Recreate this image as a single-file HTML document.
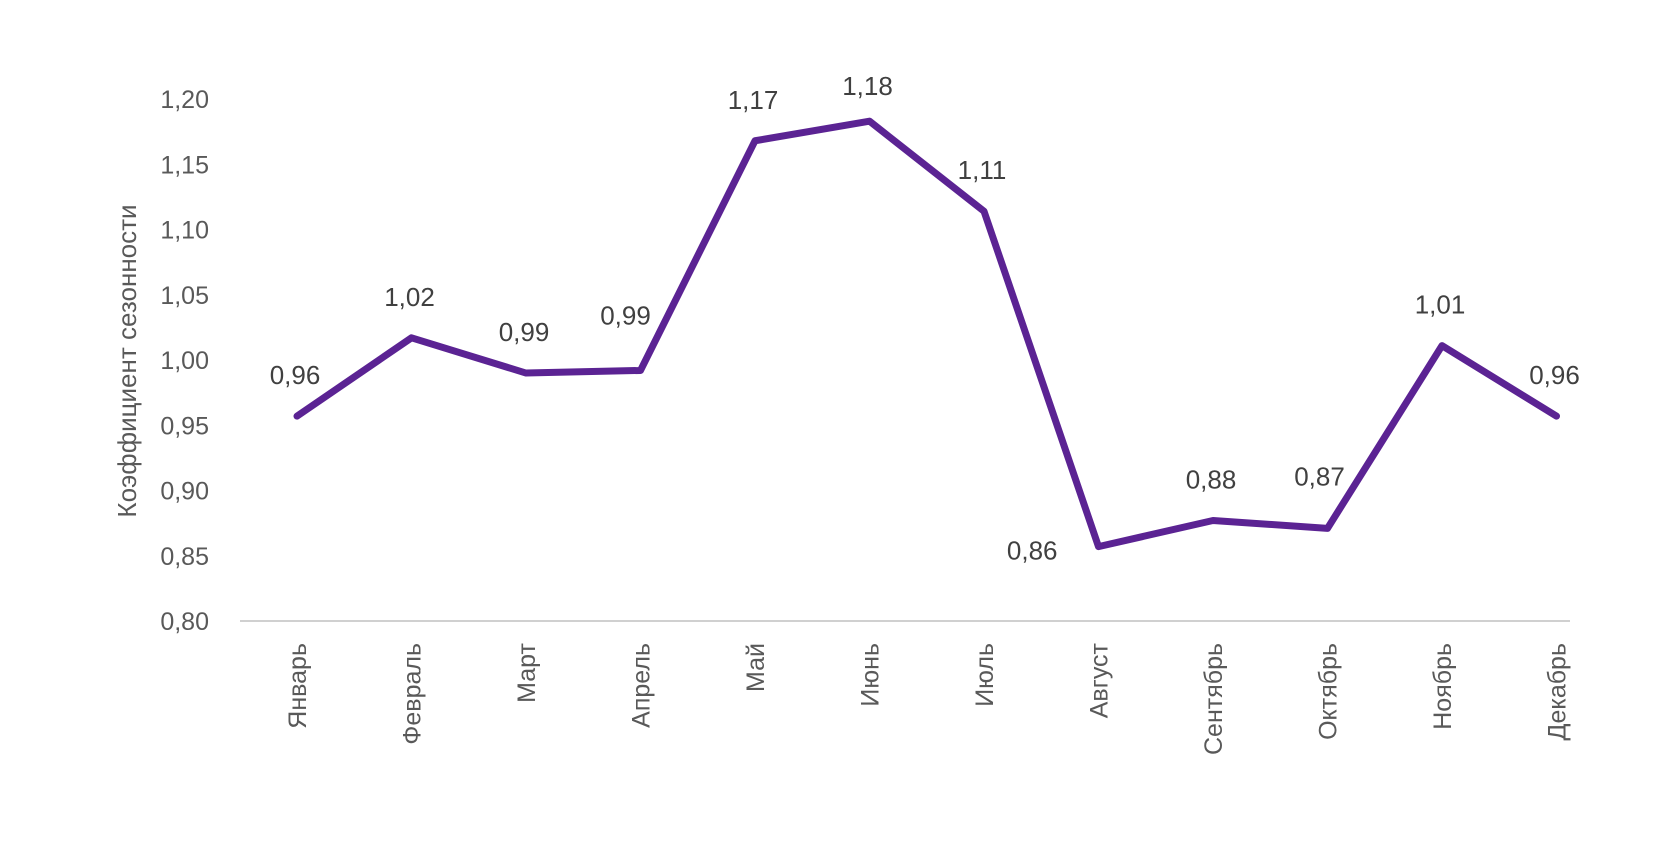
<!DOCTYPE html>
<html><head><meta charset="utf-8"><style>
body{margin:0;background:#fff;}
svg{display:block;font-family:"Liberation Sans","DejaVu Sans",sans-serif;}
</style></head><body>
<svg id="chart" width="1680" height="843"></svg>
<script>
const months=["Январь","Февраль","Март","Апрель","Май","Июнь","Июль","Август","Сентябрь","Октябрь","Ноябрь","Декабрь"];
const values=[0.957,1.017,0.990,0.992,1.168,1.183,1.114,0.857,0.877,0.871,1.011,0.957];
const labels=["0,96","1,02","0,99","0,99","1,17","1,18","1,11","0,86","0,88","0,87","1,01","0,96"];
const yTicks=[0.80,0.85,0.90,0.95,1.00,1.05,1.10,1.15,1.20];
const yTickLabels=["0,80","0,85","0,90","0,95","1,00","1,05","1,10","1,15","1,20"];
const NS="http://www.w3.org/2000/svg";
const svg=document.getElementById('chart');
const y=v=>621-(v-0.8)/0.4*522;
const x=i=>297+i*114.5;
function mk(t,a,txt){const e=document.createElementNS(NS,t);for(const k in a)e.setAttribute(k,a[k]);if(txt!==undefined)e.textContent=txt;svg.appendChild(e);return e;}
const ax=mk('line',{x1:240,x2:1570,y1:621,y2:621,stroke:'#d0d0d0','stroke-width':2});


yTicks.forEach((t,i)=>{
 const e=mk('text',{x:209,y:y(t)+9,'text-anchor':'end','font-size':25,fill:'#595959'},yTickLabels[i]);
 
 
});
const yt=mk('text',{transform:'translate(136,361) rotate(-90)','text-anchor':'middle','font-size':26,fill:'#595959'},'Коэффициент сезонности');


months.forEach((m,i)=>{
 const e=mk('text',{transform:`translate(${x(i)+9},643) rotate(-90)`,'text-anchor':'end','font-size':25,fill:'#595959'},m);
 
 
});
const pts=values.map((v,i)=>x(i)+','+y(v)).join(' ');
const line=mk('polyline',{points:pts,fill:'none',stroke:'#5b2393','stroke-width':7,'stroke-linejoin':'round','stroke-linecap':'round'});


values.forEach((v,i)=>{
 let lx=x(i)-2,ly=y(v)-32,anc='middle';
 if(i===3){lx=x(i)-15;ly=y(v)-46;}
 if(i===9){lx=x(i)-8;ly=y(v)-43;}
 if(i===5){ly=y(v)-26;}
 if(i===7){lx=x(i)-41;ly=y(v)+13;anc='end';}
 const e=mk('text',{x:lx,y:ly,'text-anchor':anc,'font-size':26,fill:'#404040'},labels[i]);
 
 
});
</script>
</body></html>
